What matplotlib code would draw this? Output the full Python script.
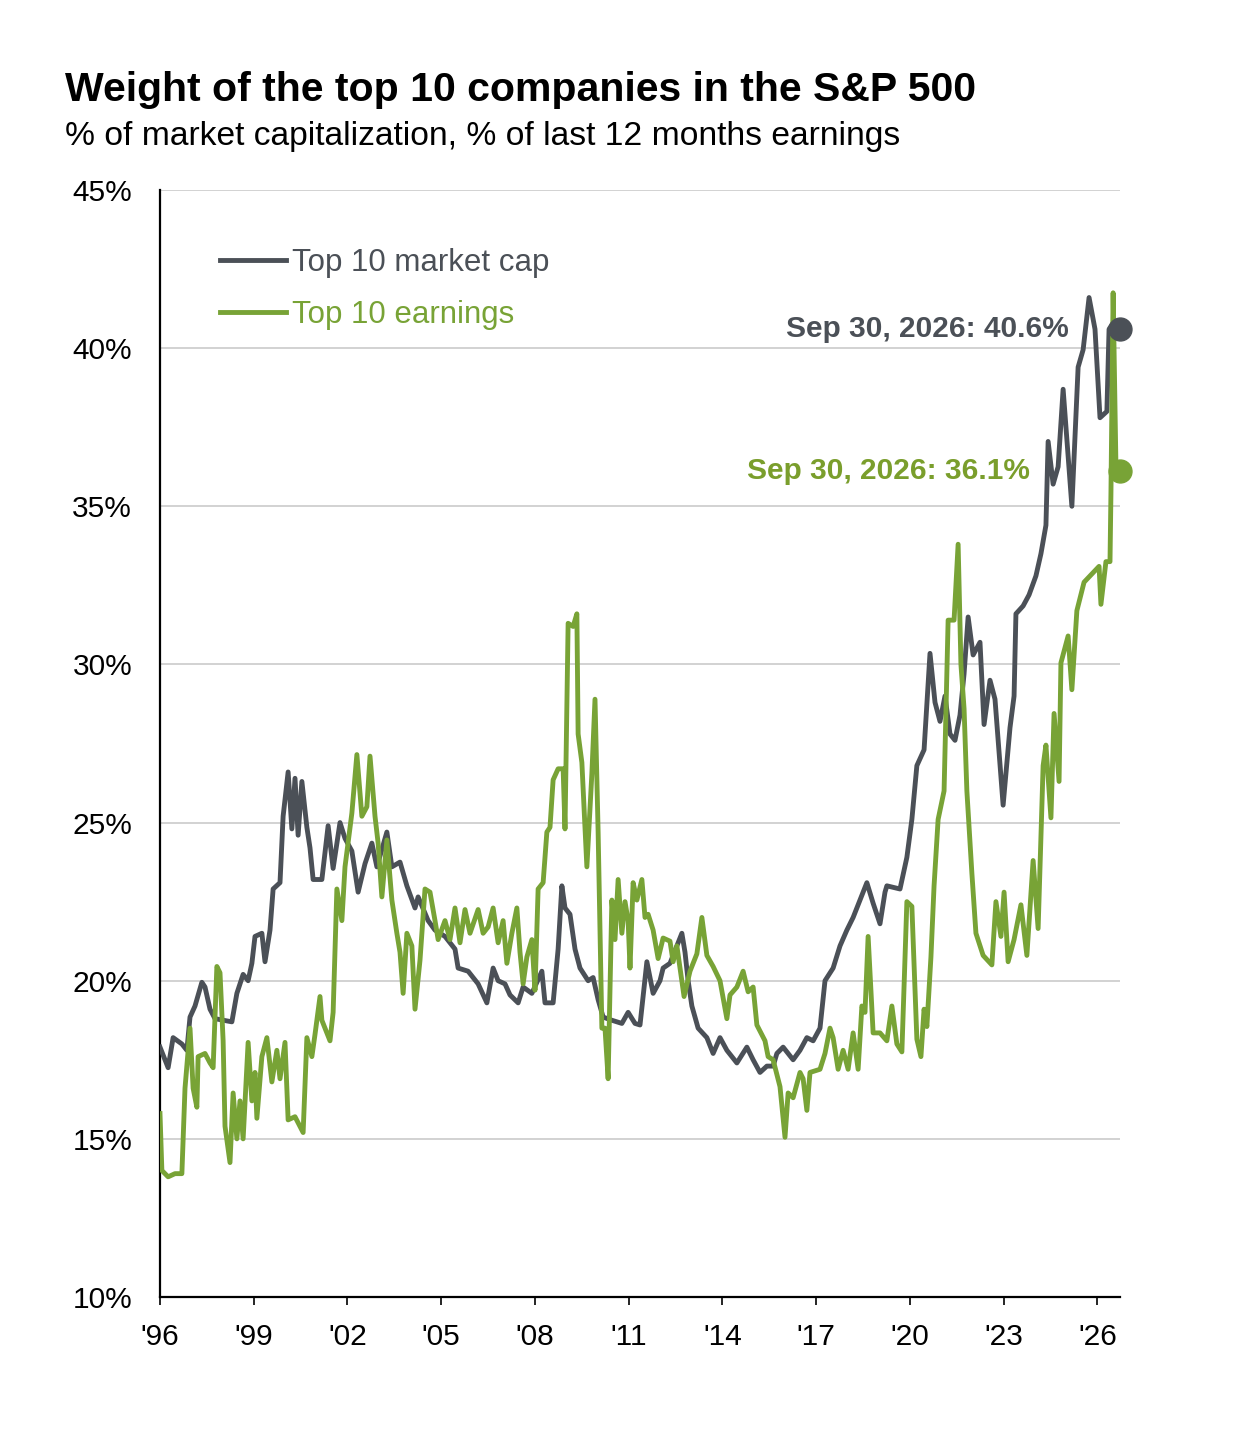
import matplotlib
matplotlib.use("Agg")
import matplotlib.pyplot as plt
import numpy as np

plt.rcParams['font.family'] = ['Liberation Sans', 'DejaVu Sans']

# ---------------- data (years since 1996, percent) ----------------
mcap_t = [0.00, 0.26, 0.42, 0.70, 0.86, 0.96, 1.12, 1.34, 1.44, 1.60, 1.76, 2.30, 2.46, 2.66, 2.82,
          2.94, 3.04, 3.26, 3.36, 3.52, 3.62, 3.84, 3.94, 4.10, 4.22, 4.32, 4.42, 4.54, 4.70, 4.80,
          4.90, 5.18, 5.38, 5.54, 5.76, 5.92, 6.14, 6.34, 6.56, 6.78, 6.94, 7.26, 7.42, 7.68, 7.90,
          8.16, 8.26, 8.58, 8.80, 9.12, 9.44, 9.54, 9.86, 10.18, 10.46, 10.66, 10.82, 11.04, 11.20,
          11.46, 11.62, 11.90, 12.22, 12.32, 12.58, 12.74, 12.86, 12.96, 13.12, 13.28, 13.44, 13.70,
          13.86, 14.02, 14.18, 14.46, 14.78, 14.98, 15.20, 15.36, 15.58, 15.78, 16.00, 16.10, 16.32,
          16.54, 16.70, 16.80, 16.90, 17.02, 17.22, 17.50, 17.70, 17.92, 18.14, 18.46, 18.78, 18.98,
          19.20, 19.42, 19.62, 19.74, 19.94, 20.26, 20.48, 20.70, 20.90, 21.12, 21.28, 21.54, 21.76,
          21.98, 22.18, 22.40, 22.62, 22.82, 23.04, 23.20, 23.26, 23.68, 23.90, 24.06, 24.22, 24.45,
          24.64, 24.80, 24.96, 25.12, 25.28, 25.44, 25.60, 25.73, 25.86, 26.02, 26.24, 26.37, 26.56,
          26.72, 26.98, 27.20, 27.33, 27.39, 27.62, 27.81, 28.03, 28.19, 28.35, 28.42, 28.58, 28.74,
          28.90, 29.18, 29.38, 29.54, 29.73, 29.92, 30.08, 30.30, 30.37, 30.50, 30.72]
mcap_v = [17.9, 17.25, 18.2, 18.0, 17.8, 18.85, 19.2, 19.95, 19.8, 19.1, 18.8, 18.7, 19.6, 20.2, 20.0,
          20.55, 21.4, 21.5, 20.6, 21.6, 22.9, 23.1, 25.2, 26.6, 24.8, 26.4, 24.6, 26.3, 24.85, 24.2,
          23.2, 23.2, 24.9, 23.55, 25.0, 24.5, 24.1, 22.8, 23.7, 24.35, 23.6, 24.7, 23.6, 23.75, 23.0,
          22.3, 22.65, 21.9, 21.6, 21.4, 21.0, 20.4, 20.3, 19.9, 19.3, 20.4, 20.0, 19.9, 19.55,
          19.3, 19.8, 19.6, 20.3, 19.3, 19.3, 21.0, 23.0, 22.3, 22.1, 21.0, 20.4, 20.0,
          20.1, 19.4, 18.85, 18.75, 18.65, 19.0, 18.65, 18.6, 20.6, 19.6, 20.0, 20.4, 20.55,
          21.1, 21.5, 20.9, 20.0, 19.2, 18.5, 18.2, 17.7, 18.2, 17.8, 17.4, 17.9, 17.5,
          17.1, 17.3, 17.3, 17.7, 17.9, 17.5, 17.8, 18.2, 18.1, 18.5, 20.0, 20.4, 21.1,
          21.6, 22.0, 22.55, 23.1, 22.45, 21.8, 22.8, 23.0, 22.9, 23.9, 25.1, 26.8, 27.3,
          30.35, 28.8, 28.2, 29.0, 27.8, 27.6, 28.4, 29.7, 31.5, 30.3, 30.7, 28.1, 29.5,
          28.9, 25.55, 28.0, 29.0, 31.6, 31.85, 32.2, 32.8, 33.5, 34.4, 37.05, 35.7, 36.25,
          38.7, 35.0, 39.4, 39.95, 41.6, 40.6, 37.8, 38.0, 40.6, 40.8, 40.6]

earn_t = [0.00, 0.06, 0.26, 0.48, 0.70, 0.80, 0.96, 1.06, 1.18, 1.22, 1.44, 1.60, 1.70, 1.82, 1.92,
          2.02, 2.08, 2.24, 2.34, 2.46, 2.56, 2.66, 2.82, 2.94, 3.04, 3.10, 3.26, 3.42, 3.58, 3.74,
          3.84, 4.00, 4.10, 4.32, 4.58, 4.70, 4.86, 4.96, 5.12, 5.18, 5.44, 5.54, 5.66, 5.82, 5.92,
          6.14, 6.30, 6.46, 6.62, 6.72, 6.88, 6.98, 7.10, 7.26, 7.42, 7.58, 7.68, 7.78, 7.90, 8.06,
          8.16, 8.32, 8.48, 8.64, 8.80, 8.90, 9.12, 9.28, 9.44, 9.60, 9.76, 9.92, 10.18, 10.34,
          10.50, 10.66, 10.82, 10.98, 11.10, 11.26, 11.42, 11.52, 11.62, 11.74, 11.90, 12.00, 12.10,
          12.26, 12.38, 12.48, 12.58, 12.74, 12.90, 12.96, 13.06, 13.22, 13.34, 13.38, 13.50, 13.66,
          13.82, 13.92, 14.02, 14.14, 14.24, 14.34, 14.46, 14.56, 14.66, 14.78, 14.88, 14.98, 15.04,
          15.14, 15.26, 15.42, 15.52, 15.62, 15.78, 15.94, 16.10, 16.32, 16.42, 16.54, 16.70, 16.77,
          16.96, 17.18, 17.34, 17.50, 17.70, 17.92, 18.14, 18.24, 18.46, 18.66, 18.82, 18.98, 19.10,
          19.36, 19.46, 19.62, 19.84, 20.00, 20.10, 20.26, 20.48, 20.58, 20.70, 20.80, 21.12, 21.28,
          21.44, 21.54, 21.70, 21.86, 22.02, 22.18, 22.34, 22.46, 22.56, 22.66, 22.82, 23.04, 23.26,
          23.42, 23.58, 23.74, 23.90, 24.06, 24.22, 24.35, 24.45, 24.54, 24.67, 24.77, 24.90, 25.09,
          25.22, 25.41, 25.54, 25.63, 25.73, 25.82, 25.98, 26.11, 26.34, 26.62, 26.75, 26.91, 27.01,
          27.14, 27.33, 27.55, 27.74, 27.94, 28.10, 28.26, 28.35, 28.51, 28.61, 28.77, 28.83, 29.06,
          29.18, 29.34, 29.57, 29.86, 30.05, 30.11, 30.27, 30.40, 30.43, 30.50, 30.59, 30.72]
earn_v = [15.8, 14.0, 13.8, 13.9, 13.9, 16.6, 18.5, 16.6, 16.0, 17.6, 17.7, 17.4, 17.25, 20.45, 20.25,
          18.1, 15.4, 14.25, 16.45, 15.0, 16.2, 15.0, 18.05, 16.2, 17.1, 15.65, 17.6, 18.2, 16.8, 17.8,
          16.9, 18.05, 15.6, 15.7, 15.2, 18.2, 17.6, 18.3, 19.5, 18.75, 18.1, 19.0, 22.9, 21.9, 23.6,
          25.3, 27.15, 25.2, 25.5, 27.1, 25.2, 24.35, 22.65, 24.45, 22.55, 21.5, 20.9, 19.6, 21.5, 21.1,
          19.1, 20.65, 22.9, 22.8, 21.9, 21.3, 21.9, 21.3, 22.3, 21.2, 22.25, 21.5, 22.25, 21.5,
          21.7, 22.3, 21.2, 21.9, 20.55, 21.5, 22.3, 20.9, 19.9, 20.75, 21.3, 19.7, 22.9,
          23.1, 24.7, 24.85, 26.35, 26.7, 26.7, 24.8, 31.3, 31.2, 31.6, 27.8, 26.9, 23.6,
          26.55, 28.9, 24.7, 18.5, 18.5, 16.9, 22.55, 21.3, 23.2, 21.5, 22.5, 21.9, 20.4,
          23.1, 22.55, 23.2, 22.0, 22.1, 21.6, 20.7, 21.35, 21.25, 20.6, 21.1, 20.0, 19.5,
          20.3, 20.85, 22.0, 20.8, 20.45, 20.0, 18.8, 19.55, 19.8, 20.3, 19.65, 19.8, 18.6,
          18.1, 17.6, 17.5, 16.65, 15.05, 16.45, 16.3, 17.1, 16.9, 15.9, 17.1, 17.2, 17.7,
          18.5, 18.2, 17.2, 17.8, 17.2, 18.35, 17.2, 19.2, 19.0, 21.4, 18.35, 18.35, 18.1,
          19.2, 18.0, 17.75, 22.5, 22.35, 18.15, 17.6, 19.1, 18.55, 20.75, 23.0, 25.1, 26.0,
          31.4, 31.4, 33.8, 30.0, 28.6, 26.0, 23.4, 21.5, 20.8, 20.5, 22.5, 21.4, 22.8,
          20.6, 21.3, 22.4, 20.8, 23.8, 21.65, 26.8, 27.45, 25.15, 28.45, 26.3, 30.05, 30.9,
          29.2, 31.7, 32.6, 32.9, 33.1, 31.9, 33.25, 33.25, 35.4, 41.75, 36.3, 36.1]

series_labels = ["Top 10 market cap", "Top 10 earnings"]
last_labels = ["Sep 30, 2026: 40.6%", "Sep 30, 2026: 36.1%"]
y_ticks = [10, 15, 20, 25, 30, 35, 40, 45]
x_tick_years = [1996, 1999, 2002, 2005, 2008, 2011, 2014, 2017, 2020, 2023, 2026]
x_tick_labels = ["'96", "'99", "'02", "'05", "'08", "'11", "'14", "'17", "'20", "'23", "'26"]

start_year = 1996
mcap_x = [start_year + t for t in mcap_t]
earn_x = [start_year + t for t in earn_t]

GRAY = "#4b5057"
GREEN = "#78a336"
GREEN_TXT = "#7a9e2c"

fig = plt.figure(figsize=(12.34, 14.5), dpi=100)
ax = fig.add_axes([160/1234, 1 - 1297/1450, (1120-160)/1234, (1297-190)/1450])

ax.plot(mcap_x, mcap_v, color=GRAY, lw=3.5, solid_joinstyle='round', label=series_labels[0], zorder=3)
ax.plot(earn_x, earn_v, color=GREEN, lw=3.5, solid_joinstyle='round', label=series_labels[1], zorder=4)

# end markers
ax.plot([mcap_x[-1]], [mcap_v[-1]], 'o', color=GRAY, ms=16.5, zorder=5, clip_on=False)
ax.plot([earn_x[-1]], [earn_v[-1]], 'o', color=GREEN, ms=16.5, zorder=5, clip_on=False)

ax.annotate(last_labels[0], xy=(mcap_x[-1], mcap_v[-1]), xytext=(-37, 0), textcoords='offset points',
            ha='right', va='center', fontsize=21.5, fontweight='bold', color=GRAY)
ax.annotate(last_labels[1], xy=(earn_x[-1], earn_v[-1]), xytext=(-65, 0), textcoords='offset points',
            ha='right', va='center', fontsize=21.5, fontweight='bold', color=GREEN_TXT)

ax.set_xlim(1996, 2026.72)
ax.set_ylim(10, 45)
ax.set_yticks(y_ticks)
ax.set_yticklabels([f"{v}%" for v in y_ticks], fontsize=21.5)
ax.set_xticks(x_tick_years)
ax.set_xticklabels(x_tick_labels, fontsize=21.5)
ax.tick_params(axis='y', length=0, pad=20)
ax.tick_params(axis='x', length=6, width=1.2, direction='out', pad=13)

ax.grid(axis='y', color='#cfcfcf', lw=1.3)
ax.set_axisbelow(True)
for s in ['top', 'right']:
    ax.spines[s].set_visible(False)
for s in ['left', 'bottom']:
    ax.spines[s].set_linewidth(1.6)
    ax.spines[s].set_color('black')

leg = ax.legend(loc='upper left', bbox_to_anchor=(0.056, 0.953), frameon=False, fontsize=22.5,
                handlelength=2.1, handletextpad=0.2, labelspacing=0.68, labelcolor='linecolor',
                borderaxespad=0.0, borderpad=0.2)
for h in leg.get_lines():
    h.set_linewidth(3.5)

fig.text(65/1234, 1 - 90/1450, "Weight of the top 10 companies in the S&P 500", fontsize=29.5,
         fontweight='bold', ha='left', va='center', color='black')
fig.text(65/1234, 1 - 137/1450, "% of market capitalization, % of last 12 months earnings", fontsize=24.2,
         ha='left', va='center', color='black')

fig.savefig("out.png", dpi=100)
